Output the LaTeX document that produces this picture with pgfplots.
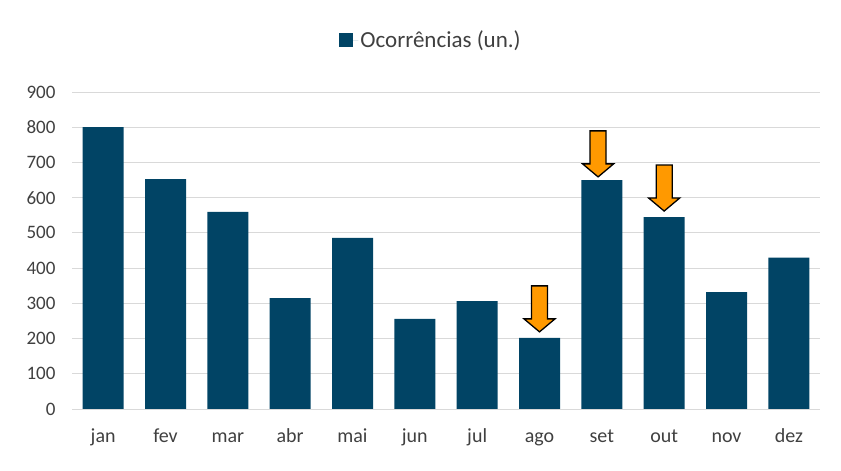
\documentclass[border=0pt]{standalone}
\usepackage{pgfplots}
\pgfplotsset{compat=1.18}
\usepackage{fontspec}
\setmainfont{Carlito}
\definecolor{barblue}{RGB}{1,68,101}
\definecolor{arroworange}{RGB}{255,153,0}
\definecolor{txt}{RGB}{64,64,64}
\definecolor{gridc}{RGB}{217,217,217}
\pgfdeclareplotmark{darrow}{%
 \pgfpathmoveto{\pgfpoint{0bp}{0bp}}%
 \pgfpathlineto{\pgfpoint{15.5bp}{13bp}}%
 \pgfpathlineto{\pgfpoint{8bp}{13bp}}%
 \pgfpathlineto{\pgfpoint{8bp}{46bp}}%
 \pgfpathlineto{\pgfpoint{-8bp}{46bp}}%
 \pgfpathlineto{\pgfpoint{-8bp}{13bp}}%
 \pgfpathlineto{\pgfpoint{-15.5bp}{13bp}}%
 \pgfpathclose
 \pgfusepathqfillstroke}
\begin{document}
\begin{tikzpicture}
\begin{axis}[
  at={(72bp,62bp)}, anchor=south west,
  scale only axis, width=748bp, height=317bp,
  xmin=-0.5, xmax=11.5, ymin=0, ymax=900,
  xtick=data,
  xticklabels={jan,fev,mar,abr,mai,jun,jul,ago,set,out,nov,dez},
  ytick={0,100,...,900},
  axis line style={draw=none},
  major tick length=0pt,
  ymajorgrids, grid style={gridc, line width=1pt},
  tick label style={text=txt},
  xticklabel style={font=\fontsize{20bp}{24bp}\selectfont, anchor=base, yshift=-33bp},
  yticklabel style={font=\fontsize{19bp}{22bp}\selectfont, xshift=-13bp},
  /pgf/number format/assume math mode=true,
  legend style={at={(0.48,1.164)}, anchor=center, draw=none, fill=none,
    font=\fontsize{23bp}{26bp}\selectfont, text=txt,
    legend cell align=left, inner sep=0pt},
  legend image code/.code={\fill[barblue] (0bp,-7bp) rectangle (14bp,7bp);
    \path (0bp,0bp) -- (19bp,0bp);},
]
\addplot[ybar, bar width=41bp, fill=barblue, draw=none] coordinates {
 (0,800) (1,653) (2,560) (3,315) (4,486) (5,256) (6,306) (7,202) (8,650) (9,545) (10,332) (11,430)};
\addlegendentry{Ocorrências (un.)}
\addplot[only marks, mark=darrow, mark options={fill=arroworange, draw=black, line width=1.3pt}, forget plot] coordinates {
 (7,219) (7.94,659) (9,562)};
\end{axis}
\path[use as bounding box] (0,0) rectangle (841bp,471bp);
\end{tikzpicture}
\end{document}
